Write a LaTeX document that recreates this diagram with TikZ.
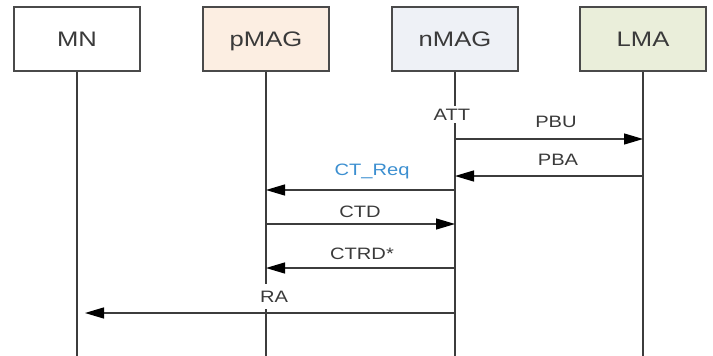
\documentclass[tikz,border=0pt]{standalone}
\usepackage{fontspec}
\setmainfont{Liberation Sans}[FakeStretch=1.22]
\usetikzlibrary{arrows.meta}
\definecolor{lineC}{HTML}{3C3C3C}
\definecolor{boxC}{HTML}{4A4A4A}
\definecolor{txtC}{HTML}{3A3A3A}
\definecolor{pmagF}{HTML}{FCEEE2}
\definecolor{nmagF}{HTML}{EEF1F6}
\definecolor{lmaF}{HTML}{EAEEDA}
\definecolor{reqC}{HTML}{3C8FD0}
\tikzset{
  entity/.style={draw=boxC, line width=1.4pt, minimum width=126pt, minimum height=64pt,
    inner sep=0pt, text height=15pt, text depth=0pt, text=txtC,
    font=\fontsize{21}{25}\selectfont},
  lifeline/.style={draw=lineC, line width=1.3pt},
  msg/.style={draw=lineC, line width=1.3pt, -{Triangle[length=19pt,width=11pt,color=black]}},
  lbl/.style={anchor=base, inner sep=0pt, text=txtC, font=\fontsize{16.5}{20}\selectfont},
  wlbl/.style={lbl, fill=white, inner xsep=1pt, inner ysep=3pt}
}
\begin{document}
\begin{tikzpicture}[x=1pt, y=-1pt]
\useasboundingbox (0,0) rectangle (713,356);
% entities
\node[entity, fill=white] (MN) at (77,39) {MN};
\node[entity, fill=pmagF] (pMAG) at (266,39) {pMAG};
\node[entity, fill=nmagF] (nMAG) at (455,39) {nMAG};
\node[entity, fill=lmaF] (LMA) at (643,39) {LMA};
% lifeline ends
\coordinate (bottom) at (0,356);
\draw[lifeline] (MN.south) -- (MN |- bottom);
\draw[lifeline] (pMAG.south) -- (pMAG |- bottom);
\draw[lifeline] (nMAG.south) -- (nMAG |- bottom);
\draw[lifeline] (LMA.south) -- (LMA |- bottom);
% rows
\coordinate (r1) at (0,139);
\coordinate (r2) at (0,176);
\coordinate (r3) at (0,190);
\coordinate (r4) at (0,224);
\coordinate (r5) at (0,268);
\coordinate (r6) at (0,313);
% labels
\node[wlbl] (att) at (452,120) {ATT};
\node[lbl] (pbu) at (556,127) {PBU};
\node[lbl] (pba) at (558,165) {PBA};
\node[lbl, text=reqC] (ctreq) at (372,175) {CT\_Req};
\node[lbl] (ctd) at (360,217) {CTD};
\node[lbl] (ctrd) at (362,259) {CTRD*};
\node[wlbl, inner ysep=7pt] (ra) at (274,302) {RA};
% messages
\draw[msg] (nMAG |- r1) -- (LMA |- r1);
\draw[msg] (LMA |- r2) -- (nMAG |- r2);
\draw[msg] (nMAG |- r3) -- (pMAG |- r3);
\draw[msg] (pMAG |- r4) -- (nMAG |- r4);
\draw[msg] (nMAG |- r5) -- (pMAG |- r5);
\draw[msg, shorten >=8pt] (nMAG |- r6) -- (MN |- r6);
\end{tikzpicture}
\end{document}
